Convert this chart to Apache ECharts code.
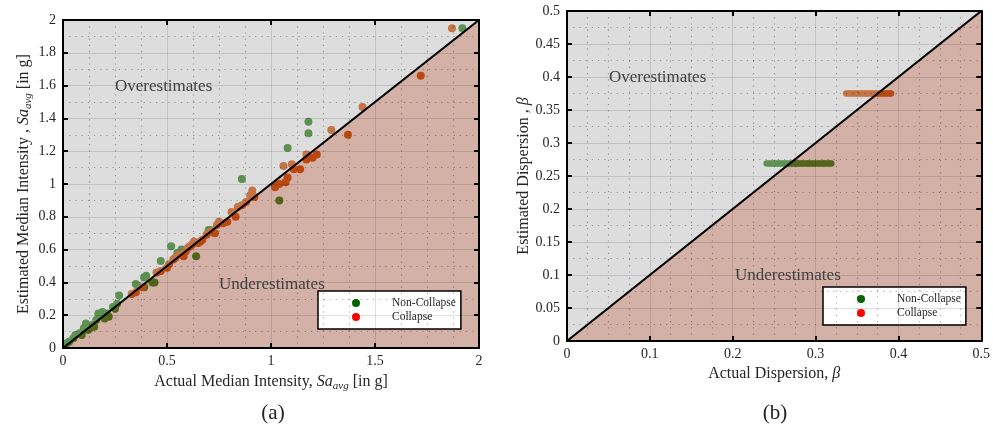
<!DOCTYPE html>
<html>
<head>
<meta charset="utf-8">
<script src="https://cdn.jsdelivr.net/npm/echarts@6/dist/echarts.min.js"></script>
<style>html,body{margin:0;padding:0;background:#fff;}#c{width:993px;height:433px;}</style>
</head>
<body>
<div id="c"></div>
<script>
// ---------- Data: panel (a) ----------
const saNonCollapseActual = [1.92,1.18,1.18,1.08,0.86,1.04,0.70,0.71,0.52,0.55,0.57,0.64,0.47,0.40,0.39,0.43,0.44,0.39,0.36,0.35,0.27,0.24,0.25,0.26,0.19,0.18,0.17,0.20,0.22,0.21,0.15,0.11,0.10,0.12,0.14,0.08,0.06,0.05,0.03,0.02,0.09,0.13,0.16];
const saNonCollapseEst    = [1.95,1.38,1.31,1.22,1.03,0.90,0.72,0.72,0.62,0.58,0.60,0.56,0.53,0.44,0.43,0.40,0.40,0.37,0.38,0.39,0.32,0.25,0.24,0.27,0.22,0.20,0.21,0.18,0.19,0.21,0.13,0.15,0.12,0.11,0.14,0.09,0.08,0.06,0.04,0.03,0.08,0.12,0.17];
const saCollapseActual = [1.87,1.72,1.44,1.29,1.37,1.22,1.20,1.17,1.17,1.14,1.06,1.08,1.07,1.04,1.02,1.02,0.91,0.91,0.92,0.90,0.84,0.81,0.83,0.79,0.77,0.75,0.74,0.73,0.66,0.63,0.62,0.65,0.61,0.59,0.58,0.54,0.53,0.51,0.47,0.35,0.67,0.60,0.56,0.50,0.45,0.69,0.71,0.38,0.86,1.10,1.11,0.88,0.33];
const saCollapseEst    = [1.95,1.66,1.47,1.33,1.30,1.18,1.16,1.18,1.15,1.09,1.11,1.04,1.01,1.00,0.98,0.99,0.96,0.94,0.92,0.93,0.86,0.83,0.80,0.77,0.76,0.77,0.75,0.70,0.65,0.65,0.63,0.64,0.62,0.59,0.56,0.55,0.54,0.51,0.47,0.34,0.66,0.61,0.57,0.49,0.46,0.69,0.71,0.37,0.87,1.12,1.09,0.89,0.33];
const saRange = [0, 2];

// ---------- Data: panel (b) ----------
const betaNonCollapseActual = [0.241,0.244,0.247,0.249,0.252,0.255,0.257,0.260,0.262,0.265,0.268,0.270,0.272,0.275,0.277,0.279,0.282,0.284,0.286,0.289,0.291,0.293,0.296,0.298,0.300,0.303,0.305,0.308,0.310,0.312,0.315,0.317,0.319];
const betaNonCollapseEst = 0.269;
const betaCollapseActual = [0.337,0.340,0.342,0.345,0.347,0.350,0.352,0.355,0.357,0.360,0.362,0.364,0.367,0.369,0.372,0.374,0.377,0.379,0.382,0.384,0.387,0.389,0.391];
const betaCollapseEst = 0.375;
const betaRange = [0, 0.5];

const seriesNames = ['Non-Collapse', 'Collapse'];
const regionLabels = ['Overestimates', 'Underestimates'];
const panelLabels = ['(a)', '(b)'];

// ---------- Styles ----------
const FF = '"Liberation Serif", "Times New Roman", serif';
const TXT = '#262626';
const COL_NC = '#2a8016';
const COL_C = '#d55005';
const OVER_FILL = 'rgba(170,170,170,0.4)';
const UNDER_FILL = 'rgba(145,60,35,0.4)';

const nameRich = {
  i: {fontFamily: FF, fontSize: 16, fontStyle: 'italic', color: TXT},
  s: {fontFamily: FF, fontSize: 11, fontStyle: 'italic', color: TXT, verticalAlign: 'bottom', padding: [9, 0, 0, 0]}
};

function mainX(gi, min, max, interval, name, gap) {
  return {
    gridIndex: gi, type: 'value', min, max, interval, position: 'bottom', z: 10,
    name, nameLocation: 'middle', nameGap: gap,
    nameTextStyle: {fontFamily: FF, fontSize: 16, color: TXT, rich: nameRich},
    axisLine: {onZero: false, lineStyle: {color: '#000', width: 2}},
    axisTick: {inside: true, length: 5, lineStyle: {color: '#000', width: 2}},
    axisLabel: {fontFamily: FF, fontSize: 14, color: TXT, margin: 6},
    splitLine: {show: true, lineStyle: {color: 'rgba(0,0,0,0.12)', width: 1}},
    minorTick: {show: false, splitNumber: 4},
    minorSplitLine: {show: true, lineStyle: {color: 'rgba(0,0,0,0.32)', width: 1.2, type: [1.2, 5]}}
  };
}
function mainY(gi, min, max, interval, name, gap) {
  return {
    gridIndex: gi, type: 'value', min, max, interval, position: 'left', z: 10,
    name, nameLocation: 'middle', nameGap: gap,
    nameTextStyle: {fontFamily: FF, fontSize: 16, color: TXT, rich: nameRich},
    axisLine: {onZero: false, lineStyle: {color: '#000', width: 2}},
    axisTick: {inside: true, length: 5, lineStyle: {color: '#000', width: 2}},
    axisLabel: {fontFamily: FF, fontSize: 14, color: TXT, margin: 7},
    splitLine: {show: true, lineStyle: {color: 'rgba(0,0,0,0.12)', width: 1}},
    minorTick: {show: false, splitNumber: 2},
    minorSplitLine: {show: true, lineStyle: {color: 'rgba(0,0,0,0.32)', width: 1.2, type: [1.2, 5]}}
  };
}
function frameAxis(gi, min, max, interval, pos) {
  return {
    gridIndex: gi, type: 'value', min, max, interval, position: pos, z: 10,
    axisLine: {onZero: false, lineStyle: {color: '#000', width: 2}},
    axisTick: {inside: true, length: 5, lineStyle: {color: '#000', width: 2}},
    axisLabel: {show: false}, splitLine: {show: false}
  };
}

const zip = (a, b) => a.map((v, i) => [v, Array.isArray(b) ? b[i] : b]);
const diag = r => [[r[0], r[0]], [r[1], r[1]]];

function overlays(xi, yi, r) {
  return [
    {type: 'line', xAxisIndex: xi, yAxisIndex: yi, data: diag(r), showSymbol: false, silent: true, z: 3,
     lineStyle: {width: 0, opacity: 0}, areaStyle: {color: OVER_FILL, origin: 'end', opacity: 1}},
    {type: 'line', xAxisIndex: xi, yAxisIndex: yi, data: diag(r), showSymbol: false, silent: true, z: 3,
     lineStyle: {width: 0, opacity: 0}, areaStyle: {color: UNDER_FILL, origin: 'start', opacity: 1}},
    {type: 'line', xAxisIndex: xi, yAxisIndex: yi, data: diag(r), showSymbol: false, silent: true, z: 4,
     lineStyle: {color: '#000', width: 2.2}}
  ];
}

const legendBase = {
  orient: 'vertical', backgroundColor: '#fff', borderColor: '#000', borderWidth: 1.5,
  padding: [6, 5, 6, 34], itemWidth: 8, itemHeight: 8, itemGap: 2, icon: 'circle',
  textStyle: {fontFamily: FF, fontSize: 11.5, color: TXT, padding: [0, 0, 0, 27]},
  data: [
    {name: seriesNames[0], itemStyle: {color: '#006400'}},
    {name: seriesNames[1], itemStyle: {color: '#ff0000'}}
  ],
  selectedMode: false
};

const textEl = (x, y, t, size, align) => ({
  type: 'text', x, y, z: 100,
  style: {text: t, fontFamily: FF, fontSize: size, fill: size > 18 ? '#222' : '#404040', align: align || 'left', verticalAlign: 'middle'}
});

const option = {
  animation: false,
  backgroundColor: '#fff',
  grid: [
    {left: 63, top: 20, width: 416, height: 328},
    {left: 567, top: 11, width: 417, height: 330}
  ],
  xAxis: [
    mainX(0, saRange[0], saRange[1], 0.5, 'Actual Median Intensity, {i|Sa}{s|avg} [in g]', 24),
    frameAxis(0, saRange[0], saRange[1], 0.5, 'top'),
    mainX(1, betaRange[0], betaRange[1], 0.1, 'Actual Dispersion, {i|β}', 25),
    frameAxis(1, betaRange[0], betaRange[1], 0.1, 'top')
  ],
  yAxis: [
    mainY(0, saRange[0], saRange[1], 0.2, 'Estimated Median Intensity , {i|Sa}{s|avg} [in g]', 29),
    frameAxis(0, saRange[0], saRange[1], 0.2, 'right'),
    mainY(1, betaRange[0], betaRange[1], 0.05, 'Estimated Dispersion , {i|β}', 33),
    frameAxis(1, betaRange[0], betaRange[1], 0.05, 'right')
  ],
  legend: [
    Object.assign({}, legendBase, {left: 318, top: 291}),
    Object.assign({}, legendBase, {left: 823, top: 287})
  ],
  graphic: [
    textEl(115, 87, regionLabels[0], 17),
    textEl(219, 285, regionLabels[1], 17),
    textEl(609, 78, regionLabels[0], 17),
    textEl(735, 276, regionLabels[1], 17),
    textEl(273, 413, panelLabels[0], 21, 'center'),
    textEl(775, 413, panelLabels[1], 21, 'center')
  ],
  series: [
    {name: seriesNames[0], type: 'scatter', xAxisIndex: 0, yAxisIndex: 0, symbolSize: 8, z: 2,
     itemStyle: {color: COL_NC, opacity: 1}, data: zip(saNonCollapseActual, saNonCollapseEst)},
    {name: seriesNames[1], type: 'scatter', xAxisIndex: 0, yAxisIndex: 0, symbolSize: 8, z: 2,
     itemStyle: {color: COL_C, opacity: 1}, data: zip(saCollapseActual, saCollapseEst)},
    ...overlays(0, 0, saRange),
    {name: seriesNames[0], type: 'scatter', xAxisIndex: 2, yAxisIndex: 2, symbolSize: 6.5, z: 2,
     itemStyle: {color: COL_NC, opacity: 1}, data: zip(betaNonCollapseActual, betaNonCollapseEst)},
    {name: seriesNames[1], type: 'scatter', xAxisIndex: 2, yAxisIndex: 2, symbolSize: 6.5, z: 2,
     itemStyle: {color: COL_C, opacity: 1}, data: zip(betaCollapseActual, betaCollapseEst)},
    ...overlays(2, 2, betaRange)
  ]
};

const chart = echarts.init(document.getElementById('c'), null, {renderer: 'canvas'});
chart.setOption(option);
</script>
</body>
</html>
